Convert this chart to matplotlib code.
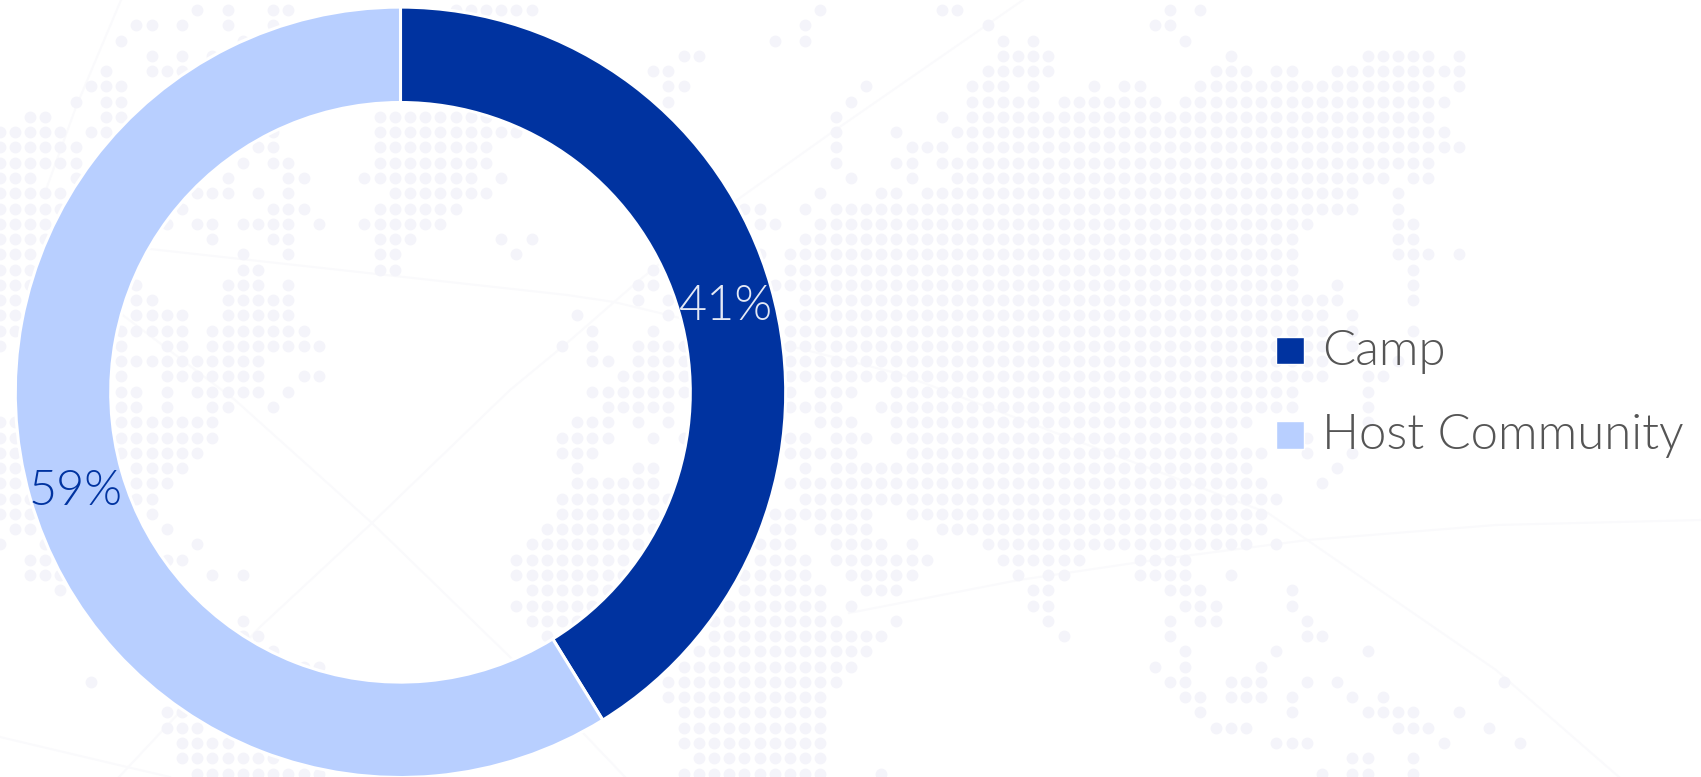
import matplotlib
matplotlib.use('Agg')
import matplotlib.pyplot as plt
from matplotlib.patches import Rectangle

# chart data
LABELS = ['Camp', 'Host Community']
VALUES = [41.2, 58.8]
COLORS = ['#0033A0', '#B8CFFF']
PCT_LABELS = ['41%', '59%']
PCT_COLORS = ['#E4E9F6', '#0033A0']

# world map of the background, dot columns per dot row
MAP_ROWS = [
    '12 14 17-18 29-34 53 61-62 76 78',
    '8-9 11 14 17 52 64 75-76',
    '7 15 50 52 65 67 77',
    '9 11 13 44-45 65-68 80 89-93 95',
    '6 9-11 42-43 64-68 79-81 83-84 87-95',
    '5-7 43-44 56 63-65 67 71 73-74 78-93 95',
    '4 6-7 43 55 63-67 69-75 77-94',
    '1-2 6-7 24-31 54 61 63-93',
    '-1-3 5-6 17 24-33 54 58 62-94',
    '-1-4 16-17 24-31 54 59-61 63-95',
    '-1-4 15 17-18 24-31 54 58-59 61-93',
    '-1-1 4 14 18-19 23-30 32 55 59 62-90 92-93',
    '-1-3 12-14 16 18 25-31 53 57-58 60-88 91',
    '-1-3 11 17-19 24-29 48-49 52 54-88 91',
    '-1-2 10 12-13 15-18 20 23-28 49-50 53-85 91-92',
    '-1-2 13 17-18 24-26 32 34 52-84 91-92',
    '-1-1 15 18 24-25 33 49 51-84 91-93 95',
    '-1-1 15-16 24-25 42 51-84 92',
    '-1-1 8 14-16 18 41-42 50-84 87 92',
    '-1-0 8-9 14-18 41 43 52-87 92',
    '-1-0 8-11 14-18 37 43 51-86 88',
    '-1-0 7-11 13-19 38 42 51-86 88 92',
    '-1 7 10-11 13-20 36 38 41-44 51-86 88',
    '7-16 38-39 41-44 51-86 91',
    '7 10-16 19-20 40-44 51-86 89-90',
    '7-8 10 12-16 18 38-44 51 53-55 58-84 89',
    '7-8 10 13-14 17 39-43 51-54 57-84 89',
    '-1-0 7-13 37-39 41 43 53-55 58-81 89',
    '-1-0 7-13 36-39 42 44 51-52 54-56 58-80 85',
    '-1-0 7-12 36-38 51-55 59-82 85 88',
    '-1-0 8-11 37 41-42 52 54-81 87',
    '-1-0 8-10 37-42 51-82 86',
    '-1-1 8-9 36-43 52-83',
    '-1-1 9 36-42 50-56 59-82',
    '0-1 10 35-42 50-51 53-56 61-82',
    '-1 2 12 34-41 49-51 54-57 59 64-81 83',
    '1-2 10-11 33-40 49-52 54-60 65-70 74-77',
    '1-3 13 15 33-40 48-52 55-59 66 68-69 74-77 80',
    '3 34-39 48-53 56-58 67-68 76-78 84',
    '33-38 47-53 55 67-68 77-79 84',
    '15 34-37 46-54 58 68 76 78-79 85',
    '15-16 35 46-57 69 76 85-86',
    '17 45-56 77 83 89',
    '19-20 44-55 75 77 82',
    '5 43-54 76-77 80-82 85 87 98',
    '43-53 77-78 80-82 84 88 90',
    '10-11 44-53 78 84 89-92 95',
    '10-12 44-53 79-81 91-93 97',
    '11-14 44-53 83-85 94 99',
    '11-17 45-53 88-89 92',
    '12-20 44-53 57 86 88-89 92',
]

# faint graticule curves of the map, in image pixels
MAP_LINES = [
    [(121, 0), (76, 107), (47, 187)],
    [(150, 249), (567, 295), (614, 302), (668, 315), (900, 374), (1268, 513), (1496, 670), (1619, 777)],
    [(1023, 0), (831, 133), (737, 200), (636, 283), (567, 343), (510, 390), (372, 523), (260, 627), (163, 730), (119, 777)],
    [(120, 313), (235, 400), (372, 523), (510, 657), (585, 735), (625, 777)],
    [(0, 737), (127, 767), (170, 777)],
    [(849, 613), (1019, 580), (1134, 563), (1192, 555), (1308, 540), (1496, 525), (1701, 520)],
]

W, H = 1701, 777
DOT_COLOR = '#F4F4FA'
LINE_COLOR = '#FAFAFC'
FONT = 'Lato'


def parse_row(row):
    '''
    Turn a row like "-1-2 7 9-11" into a list of column numbers.
    '''
    cols = []
    for part in row.split():
        neg = part.startswith('-')
        bits = part.lstrip('-').split('-')
        start = -int(bits[0]) if neg else int(bits[0])
        end = int(bits[1]) if len(bits) > 1 else start
        cols.extend(range(start, end + 1))
    return cols


fig = plt.figure(figsize=(W / 100, H / 100), dpi=100)
ax = fig.add_axes([0, 0, 1, 1])

# background map
for line in MAP_LINES:
    ax.plot([p[0] for p in line], [H - p[1] for p in line],
            color=LINE_COLOR, linewidth=1.5, zorder=1)

dot_x = []
dot_y = []
for r, row in enumerate(MAP_ROWS):
    for c in parse_row(row):
        dot_x.append(14.76 + 15.2 * c)
        dot_y.append(H - (10 + 15.27 * r))
ax.scatter(dot_x, dot_y, s=72, color=DOT_COLOR, linewidths=0, zorder=2)

# donut
ax.pie(VALUES, colors=COLORS, startangle=90, counterclock=False,
       center=(400.5, H - 392.3), radius=385.2, frame=True,
       wedgeprops={'width': 95.4, 'edgecolor': 'white', 'linewidth': 2.2, 'zorder': 3})

# percent labels
ax.text(725, H - 320, PCT_LABELS[0], color=PCT_COLORS[0], fontsize=35, family=FONT,
        weight=300, ha='center', va='baseline', zorder=5)
ax.text(75.5, H - 505, PCT_LABELS[1], color=PCT_COLORS[1], fontsize=35, family=FONT,
        weight=300, ha='center', va='baseline', zorder=5)

# legend
for i, label in enumerate(LABELS):
    y = 336.7 + 84.6 * i
    ax.add_patch(Rectangle((1276.1, H - y - 27.4), 27.5, 27.4, facecolor=COLORS[i],
                           edgecolor='white', linewidth=1, zorder=4))
    ax.text(1322, H - (365 + 84 * i), label, color='#555555', fontsize=35.4, family=FONT,
            weight=300, ha='left', va='baseline', zorder=5)

ax.set_aspect('auto')
ax.set_xlim(0, W)
ax.set_ylim(0, H)
ax.axis('off')

fig.savefig('out.png', dpi=100, facecolor='white')
